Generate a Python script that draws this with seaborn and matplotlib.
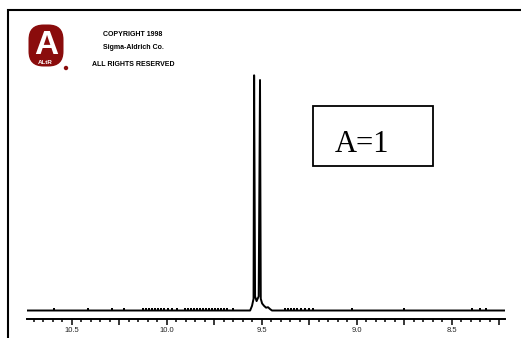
import matplotlib
matplotlib.use("Agg")
import matplotlib.pyplot as plt
import seaborn as sns
from matplotlib.ticker import MultipleLocator, FuncFormatter
from matplotlib.patches import Rectangle, FancyBboxPatch, Circle

# spectrum trace vertices (ppm, relative intensity)
trace_ppm = [10.735, 9.561, 9.551, 9.543, 9.540, 9.535, 9.527, 9.516, 9.509,
             9.505, 9.498, 9.488, 9.477, 9.467, 9.456, 9.446, 8.22]
trace_int = [0.0, 0.0, 0.02, 0.05, 1.0, 0.06, 0.04, 0.06, 0.98,
             0.05, 0.03, 0.02, 0.012, 0.014, 0.006, 0.0, 0.0]

# small noise blips sitting on the baseline
noise_ppm = [10.591, 10.412, 10.289, 10.223,
             10.125, 10.109, 10.093, 10.077, 10.062, 10.046, 10.030, 10.014, 9.993, 9.972, 9.946,
             9.903, 9.888, 9.872, 9.856, 9.840, 9.825, 9.809, 9.793, 9.777, 9.761, 9.746,
             9.730, 9.714, 9.698, 9.682, 9.649,
             9.377, 9.361, 9.346, 9.330, 9.314, 9.293, 9.272, 9.251, 9.230,
             9.023, 8.749, 8.391, 8.351, 8.319]
noise_int = [0.005] * len(noise_ppm)

copyright_lines = ["COPYRIGHT 1998", "Sigma-Aldrich Co.", "ALL RIGHTS RESERVED"]
box_label = "A=1"

sns.set_style("white")
plt.rcParams["font.family"] = ["Liberation Sans", "DejaVu Sans"]

W, H = 521, 338
fig = plt.figure(figsize=(W / 100, H / 100), dpi=100)
fig.patch.set_facecolor("white")

ax = fig.add_axes([27 / W, 19 / H, 478 / W, 259 / H])
ax.set_facecolor("none")
sns.lineplot(x=trace_ppm, y=trace_int, sort=False, estimator=None,
             color="black", linewidth=1.4, ax=ax)
sns.scatterplot(x=noise_ppm, y=noise_int, color="black", s=4, marker="s",
                linewidth=0, ax=ax)

ax.set_xlim(10.735, 8.22)
ax.set_ylim(-0.0361, 1.065)
ax.set_yticks([])
for side in ["left", "top", "right"]:
    ax.spines[side].set_visible(False)
ax.spines["bottom"].set_color("black")
ax.spines["bottom"].set_linewidth(1.4)

ax.xaxis.set_major_locator(MultipleLocator(0.25))
ax.xaxis.set_minor_locator(MultipleLocator(0.05))
ax.xaxis.set_major_formatter(FuncFormatter(
    lambda v, pos: f"{v:.1f}" if abs(v * 2 - round(v * 2)) < 1e-6 else ""))
ax.tick_params(axis="x", which="major", bottom=True, direction="out", length=4,
               width=1.1, color="black", labelsize=5.5, pad=1.5,
               labelcolor="#222222")
ax.tick_params(axis="x", which="minor", bottom=True, direction="out",
               length=2.2, width=1.1, color="black")
ax.set_xlabel("")
ax.set_ylabel("")

# overlay in pixel coordinates for frame, logo and annotations
ov = fig.add_axes([0, 0, 1, 1], zorder=5)
ov.set_xlim(0, W)
ov.set_ylim(H, 0)
ov.axis("off")
ov.set_facecolor("none")

ov.plot([8, 8, W + 2], [H + 2, 10, 10], color="black", linewidth=1.5,
        solid_joinstyle="miter")

# logo
red = "#8a0c0c"
ov.add_patch(FancyBboxPatch((28.5, 24.5), 35, 42,
                            boxstyle="round,pad=0,rounding_size=15",
                            facecolor=red, edgecolor="none"))
ov.text(46, 54, "A", ha="center", va="baseline", color="white",
        fontsize=24, fontweight="bold")
ov.text(45.5, 63.5, "ALtR", ha="center", va="baseline", color="white",
        fontsize=4.5, fontweight="bold")
ov.add_patch(Circle((66, 68), 2.2, facecolor=red, edgecolor="none"))

for label, yy in zip(copyright_lines, [35, 47.5, 64.5]):
    ov.text(133, yy, label, ha="center", va="center", fontsize=5,
            fontweight="bold", color="black")

ov.add_patch(Rectangle((313, 106), 120, 60, fill=False, edgecolor="black",
                       linewidth=1.3))
ov.text(335, 151.5, box_label, ha="left", va="baseline", fontsize=22,
        family=["Liberation Serif", "DejaVu Serif"], color="black")

fig.savefig("out.png", dpi=100)
